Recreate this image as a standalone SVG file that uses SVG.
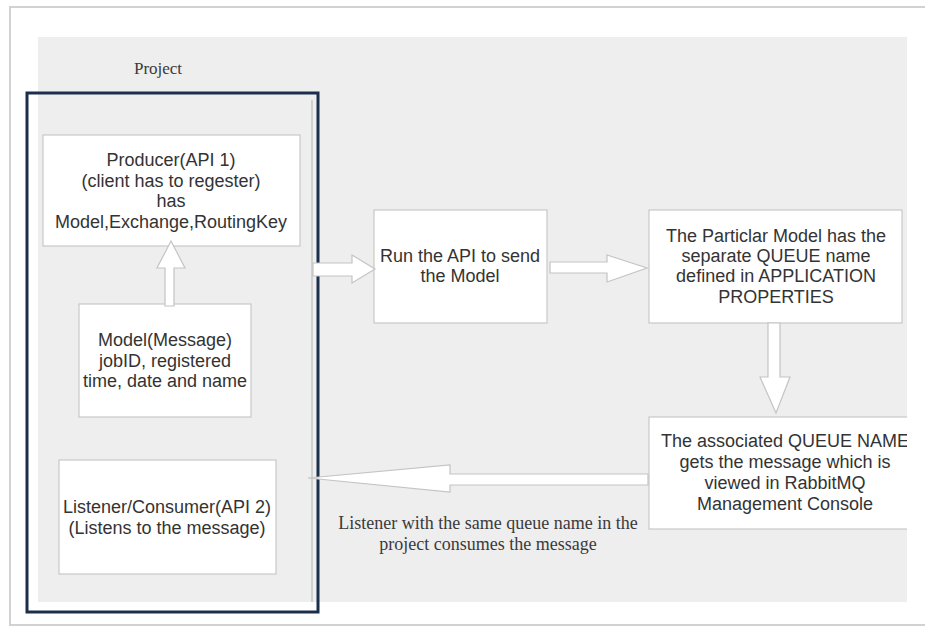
<svg xmlns="http://www.w3.org/2000/svg" width="925" height="629" viewBox="0 0 925 629">
<style>
.box{fill:#ffffff;stroke:#c8c8c8;stroke-width:1.2}
.t{font-family:"Liberation Sans",Arial,sans-serif;font-size:18px;fill:#333333;text-anchor:middle}
.s{font-family:"Liberation Serif","Times New Roman",serif;fill:#3a3a3a;text-anchor:middle}
.arr{fill:#ffffff;stroke:#c4c4c4;stroke-width:1.2;stroke-linejoin:miter}
</style>
<defs>
<clipPath id="clipR"><rect x="0" y="0" width="907" height="629"/></clipPath>
</defs>
<rect x="0" y="0" width="925" height="629" fill="#ffffff"/>
<rect x="10" y="7" width="930" height="618" fill="none" stroke="#d2d2d2" stroke-width="2"/>
<rect x="38" y="37" width="869" height="565" fill="#eeeeee"/>
<text class="s" x="158" y="74" font-size="17">Project</text>
<g id="project">
<rect x="27" y="93" width="291" height="519" fill="none" stroke="#1b2e4b" stroke-width="3"/>
<line x1="312" y1="100" x2="312" y2="602" stroke="#bdbdbd" stroke-width="1.2"/>
</g>
<g id="producer">
<rect class="box" x="43" y="135" width="257" height="111"/>
<text class="t" x="171" y="166">Producer(API 1)</text>
<text class="t" x="171" y="187">(client has to regester)</text>
<text class="t" x="171" y="207">has</text>
<text class="t" x="171" y="228">Model,Exchange,RoutingKey</text>
</g>
<g id="model">
<rect class="box" x="79" y="304" width="172" height="113"/>
<text class="t" x="165" y="346">Model(Message)</text>
<text class="t" x="165" y="367">jobID, registered</text>
<text class="t" x="165" y="387">time, date and name</text>
</g>
<g id="listener">
<rect class="box" x="59" y="460" width="217" height="114"/>
<text class="t" x="167" y="513">Listener/Consumer(API 2)</text>
<text class="t" x="167" y="534">(Listens to the message)</text>
</g>
<g id="run">
<rect class="box" x="374" y="210" width="173" height="113"/>
<text class="t" x="460" y="262">Run the API to send</text>
<text class="t" x="460" y="282">the Model</text>
</g>
<g id="particular">
<rect class="box" x="649" y="210" width="253" height="113"/>
<text class="t" x="776" y="242">The Particlar Model has the</text>
<text class="t" x="776" y="262">separate QUEUE name</text>
<text class="t" x="776" y="282">defined in APPLICATION</text>
<text class="t" x="776" y="303">PROPERTIES</text>
</g>
<g id="queue" clip-path="url(#clipR)">
<rect class="box" x="649" y="417" width="290" height="112"/>
<text class="t" x="785" y="447">The associated QUEUE NAME</text>
<text class="t" x="785" y="468">gets the message which is</text>
<text class="t" x="785" y="489">viewed in RabbitMQ</text>
<text class="t" x="785" y="510">Management Console</text>
</g>
<g id="connectors">
<polygon class="arr" points="165,306 165,268 157,268 171,241 185,268 174,268 174,306"/>
<polygon class="arr" points="313,263 352,263 352,255 375,269 352,283 352,276 313,276"/>
<polygon class="arr" points="550,262 607,262 607,255 647,268 607,282 607,273 550,273"/>
<polygon class="arr" points="768,323 768,377 760,377 776,413 790,377 780,377 780,323"/>
<polygon class="arr" points="648,474 450,474 450,465 308,478 450,492 450,485 648,485"/>
<text class="s" font-size="18" x="488" y="529">Listener with the same queue name in the</text>
<text class="s" font-size="18" x="488" y="550">project consumes the message</text>
</g>
</svg>
